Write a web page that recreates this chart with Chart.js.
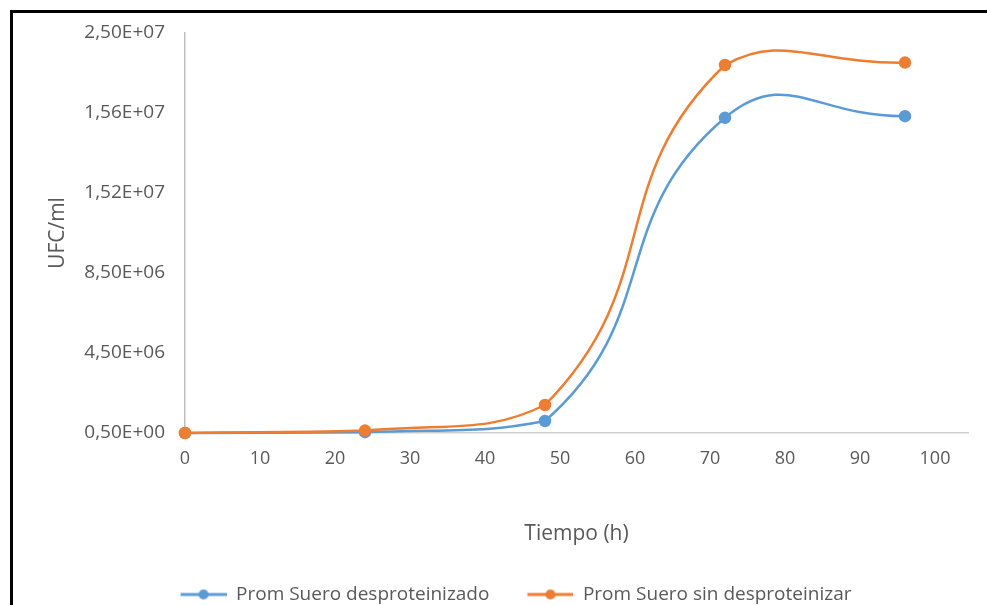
<!DOCTYPE html>
<html>
<head>
<meta charset="utf-8">
<script src="https://cdn.jsdelivr.net/npm/chart.js@4.4.1/dist/chart.umd.min.js"></script>
<style>
    html, body { margin: 0; padding: 0; background: #fff; overflow: hidden; }
    #wrap { position: relative; width: 987px; height: 605px; overflow: hidden; }
    #chart { position: absolute; left: 0; top: 0; }
    #frame {
        position: absolute; left: 10px; top: 10px; width: 977px; height: 595px;
        border-top: 3px solid #000; border-left: 3px solid #000;
        box-sizing: border-box; pointer-events: none;
    }
</style>
</head>
<body>
<div id="wrap">
    <!-- canvas is a bit taller than the page so the legend sits on the bottom edge -->
    <canvas id="chart" width="987" height="614"></canvas>
    <div id="frame"></div>
</div>
<script>
// data
// y values are in tick steps (0 = "0,50E+00" ... 5 = "2,50E+07"), the axis labels are not evenly scaled
let hours = [0, 24, 48, 72, 96];
let despro = [0, 0.01, 0.15, 3.94, 3.96];
let sinDespro = [0, 0.03, 0.35, 4.60, 4.63];
let yTickLabels = ["0,50E+00", "4,50E+06", "8,50E+06", "1,52E+07", "1,56E+07", "2,50E+07"];
let seriesNames = ["Prom Suero desproteinizado", "Prom Suero sin desproteinizar"];
let colors = ["#5B9BD5", "#ED7D31"];

let FONT = "'Open Sans', sans-serif";
let GREY = "#595959";

function toPoints(xs, ys) {
    return xs.map((x, i) => ({ x: x, y: ys[i] }));
}

// legend symbol: short line with a dot, blank space on the left acts as the gap between items
let GAP = 36;
function legendSymbol(color) {
    let c = document.createElement("canvas");
    c.width = GAP + 46;
    c.height = 12;
    let g = c.getContext("2d");
    g.strokeStyle = color;
    g.lineWidth = 3;
    g.beginPath();
    g.moveTo(GAP, 6);
    g.lineTo(GAP + 46, 6);
    g.stroke();
    g.fillStyle = color;
    g.beginPath();
    g.arc(GAP + 23, 6, 5, 0, Math.PI * 2);
    g.fill();
    return c;
}

let symbols = colors.map(legendSymbol);

let ctx = document.getElementById("chart");

new Chart(ctx, {
    type: "line",
    data: {
        datasets: [
            {
                label: seriesNames[0],
                data: toPoints(hours, despro),
                borderColor: colors[0],
                backgroundColor: colors[0],
                borderWidth: 2.5,
                pointRadius: 5,
                tension: 0.5,
                clip: false,
                order: 1
            },
            {
                // orange drawn on top, like the original
                label: seriesNames[1],
                data: toPoints(hours, sinDespro),
                borderColor: colors[1],
                backgroundColor: colors[1],
                borderWidth: 2.5,
                pointRadius: 5,
                tension: 0.5,
                clip: false,
                order: 0
            }
        ]
    },
    options: {
        responsive: false,
        devicePixelRatio: 1,
        animation: false,
        layout: {
            padding: { top: 33, right: 19, bottom: 0, left: 28 }
        },
        plugins: {
            tooltip: { enabled: false },
            legend: {
                position: "bottom",
                labels: {
                    usePointStyle: true,
                    pointStyleWidth: GAP + 46,
                    padding: 2,
                    color: GREY,
                    font: { family: FONT, size: 19 },
                    generateLabels: (chart) => chart.data.datasets.map((ds, i) => ({
                        text: ds.label,
                        pointStyle: symbols[i],
                        fillStyle: colors[i],
                        strokeStyle: colors[i],
                        lineWidth: 0,
                        fontColor: GREY,
                        datasetIndex: i
                    }))
                }
            }
        },
        scales: {
            x: {
                type: "linear",
                min: 0,
                max: 104.4,
                grid: { display: false, drawTicks: false },
                border: { display: true, color: "#d0d0d0", width: 1.5 },
                ticks: {
                    stepSize: 10,
                    includeBounds: false,
                    padding: 15,
                    color: GREY,
                    font: { family: FONT, size: 18 }
                },
                title: {
                    display: true,
                    text: "Tiempo (h)",
                    color: GREY,
                    font: { family: FONT, size: 21 },
                    padding: { top: 0, bottom: 36 }
                },
                afterFit: (scale) => { scale.height = 150; }
            },
            y: {
                min: 0,
                max: 5,
                grid: { display: false, drawTicks: false },
                border: { display: true, color: "#bfbfbf", width: 1.5 },
                ticks: {
                    stepSize: 1,
                    padding: 20,
                    color: GREY,
                    font: { family: FONT, size: 19 },
                    callback: (v) => yTickLabels[v]
                },
                title: {
                    display: true,
                    text: "UFC/ml",
                    color: GREY,
                    font: { family: FONT, size: 21 },
                    padding: { top: 17, bottom: 0 }
                },
                afterFit: (scale) => { scale.width = 157; }
            }
        }
    }
});
</script>
</body>
</html>
